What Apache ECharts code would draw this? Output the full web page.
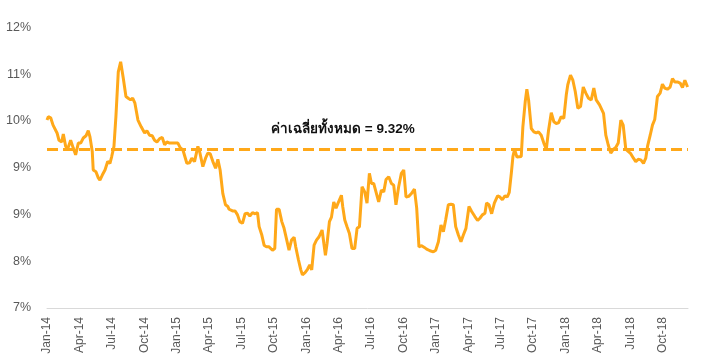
<!DOCTYPE html>
<html>
<head>
<meta charset="utf-8">
<script src="https://cdn.jsdelivr.net/npm/echarts@6/dist/echarts.min.js"></script>
<style>
html,body{margin:0;padding:0;background:#fff;}
#chart{width:701px;height:361px;}
</style>
</head>
<body>
<div id="chart"></div>
<script>
// x positions: months since Jan-14
var months = [0,0.12,0.34,0.56,0.93,1.11,1.36,1.51,1.73,1.94,2.19,2.43,2.65,2.90,3.12,3.36,3.61,3.82,3.98,4.19,4.28,4.53,4.75,4.90,5.12,5.37,5.62,5.83,5.99,6.20,6.38,6.60,6.82,7.06,7.31,7.52,7.74,7.93,8.14,
8.42,8.72,9.04,9.25,9.50,9.74,9.96,10.18,10.43,10.67,10.89,11.10,11.35,11.59,11.91,12.12,12.33,12.58,12.74,12.95,13.20,13.41,13.66,13.97,14.13,14.43,14.68,14.89,15.11,15.36,15.61,15.82,16.03,16.28,16.53,16.74,
16.86,17.18,17.42,17.64,17.85,18.10,18.34,18.57,18.78,19.03,19.27,19.49,19.64,19.89,20.10,20.32,20.56,20.72,20.88,21.09,21.25,21.49,21.74,21.95,22.20,22.41,22.64,22.88,23.03,23.28,23.50,23.65,23.89,24.12,24.33,24.51,24.73,24.95,25.19,
25.47,25.62,25.78,25.93,26.15,26.34,26.55,26.76,26.95,27.26,27.38,27.57,27.78,28.00,28.24,28.49,28.71,28.93,29.17,29.42,29.63,29.85,30.04,30.25,30.46,30.71,30.96,31.18,31.39,31.64,31.89,32.10,32.31,32.56,32.81,33.03,33.24,33.49,33.74,
34.02,34.23,34.44,34.69,34.94,35.15,35.46,35.77,35.99,36.24,36.48,36.70,36.91,37.16,37.40,37.62,37.84,38.09,38.33,38.55,38.79,39.07,39.32,39.62,39.87,40.08,40.31,40.55,40.70,40.92,41.17,41.42,41.72,41.93,42.16,42.40,
42.62,42.80,42.99,43.14,43.29,43.51,43.69,43.91,44.06,44.28,44.43,44.59,44.84,45.08,45.30,45.51,45.76,46.00,46.23,46.44,46.69,46.93,47.15,47.36,47.61,47.85,48.08,48.22,48.47,48.69,48.91,49.15,49.40,49.65,49.89,50.14,50.39,50.63,50.85,51.16,
51.53,51.74,51.96,52.20,52.45,52.66,52.89,53.13,53.35,53.59,53.81,54.05,54.30,54.51,54.74,54.98,55.23,55.44,55.60,55.85,56.06,56.27,56.52,56.77,56.98,57.19,57.44,57.70,57.91,58.12,58.37,58.62,58.84,59.06,59.31];
// rate values (axis %)
var values = [10.35,10.41,10.39,10.26,10.12,9.99,9.96,10.10,9.88,9.85,9.99,9.85,9.73,9.94,9.94,10.03,10.07,10.16,10.05,9.79,9.46,9.43,9.32,9.28,9.37,9.46,9.61,9.58,9.70,9.88,10.41,11.21,11.39,11.10,10.77,10.74,10.71,10.74,10.65,
10.35,10.23,10.12,10.16,10.08,10.07,9.99,9.96,10.02,10.04,9.91,9.96,9.94,9.94,9.94,9.94,9.86,9.82,9.79,9.58,9.59,9.67,9.61,9.88,9.79,9.52,9.67,9.76,9.75,9.61,9.49,9.65,9.46,9.04,8.84,8.81,
8.76,8.73,8.73,8.66,8.54,8.51,8.68,8.69,8.64,8.70,8.68,8.70,8.45,8.30,8.12,8.09,8.09,8.12,8.03,8.06,8.76,8.76,8.54,8.42,8.21,8.03,8.21,8.26,8.09,7.86,7.68,7.59,7.63,7.69,7.77,7.68,8.12,8.21,8.27,
8.39,8.42,7.94,8.15,8.54,8.62,8.89,8.78,8.87,9.01,8.81,8.57,8.45,8.33,8.06,8.06,8.42,8.45,9.16,9.07,8.87,9.40,9.22,9.22,9.07,8.89,9.10,9.07,9.29,9.34,9.22,9.19,8.84,9.16,9.40,9.46,8.98,8.99,9.04,
9.12,8.78,8.09,8.11,8.08,8.05,8.02,8.00,8.03,8.18,8.48,8.36,8.57,8.84,8.85,8.84,8.45,8.30,8.18,8.30,8.42,8.81,8.72,8.63,8.56,8.60,8.66,8.69,8.87,8.84,8.68,8.87,9.00,8.98,8.93,9.00,
8.98,9.06,9.40,9.70,9.83,9.69,9.67,9.70,10.23,10.68,10.90,10.71,10.20,10.14,10.12,10.14,10.08,9.94,9.83,10.17,10.48,10.32,10.29,10.30,10.41,10.38,10.80,10.98,11.15,11.06,10.86,10.56,10.59,10.94,10.83,10.74,10.71,10.92,10.71,10.62,
10.47,10.08,9.91,9.76,9.83,9.86,9.94,10.35,10.26,9.83,9.79,9.75,9.67,9.61,9.65,9.64,9.58,9.67,9.88,10.08,10.26,10.36,10.77,10.83,10.99,10.92,10.90,10.94,11.09,11.03,11.03,11.01,10.93,11.06,10.94];
// quarterly x tick labels
var xTickLabels = ['Jan-14','Apr-14','Jul-14','Oct-14','Jan-15','Apr-15','Jul-15','Oct-15','Jan-16','Apr-16','Jul-16','Oct-16','Jan-17','Apr-17','Jul-17','Oct-17','Jan-18','Apr-18','Jul-18','Oct-18'];
// y tick labels as shown
var yTickLabels = ['7%','8%','9%','9%','10%','11%','12%'];
var avgLineLevel = 9.83;
var avgLabel = 'ค่าเฉลี่ยทั้งหมด = 9.32%';

var seriesData = months.map(function(m, i){ return [m, values[i]]; });
var yMin = 7, yMax = 12, yStep = 5/6;
var color = '#FFA819';

var chart = echarts.init(document.getElementById('chart'), null, {renderer:'canvas'});
chart.setOption({
  animation:false,
  backgroundColor:'#ffffff',
  grid:{left:47, right:13, top:27.5, bottom:53, containLabel:false},
  xAxis:{
    type:'value', min:0, max:59.35, interval:3,
    axisLine:{show:true, lineStyle:{color:'#D9D9D9', width:1}},
    axisTick:{show:false},
    splitLine:{show:false},
    axisLabel:{
      rotate:90, margin:9, color:'#595959', fontSize:12, fontFamily:'Liberation Sans, Arial, sans-serif',
      showMaxLabel:false,
      formatter:function(v){ var k=Math.round(v/3); return xTickLabels[k]||''; }
    }
  },
  yAxis:{
    type:'value', min:yMin, max:yMax, interval:yStep,
    axisLine:{show:false}, axisTick:{show:false}, splitLine:{show:false},
    axisLabel:{
      margin:16, color:'#595959', fontSize:12.5, fontFamily:'Liberation Sans, Arial, sans-serif',
      formatter:function(v){ var k=Math.round((v-yMin)/yStep); return yTickLabels[k]||''; }
    }
  },
  series:[{
    type:'line', data:seriesData, showSymbol:false, symbol:'none',
    lineStyle:{color:color, width:3}, itemStyle:{color:color},
    markLine:{
      silent:true, symbol:'none', label:{show:false},
      lineStyle:{color:color, width:3, type:[11,5]},
      data:[{yAxis:avgLineLevel}]
    }
  }],
  graphic:[{
    type:'text', left:271, top:122,
    style:{text:avgLabel, fill:'#111', font:'bold 13.5px "Liberation Sans", "Noto Sans", sans-serif'}
  }]
});
</script>
</body>
</html>
